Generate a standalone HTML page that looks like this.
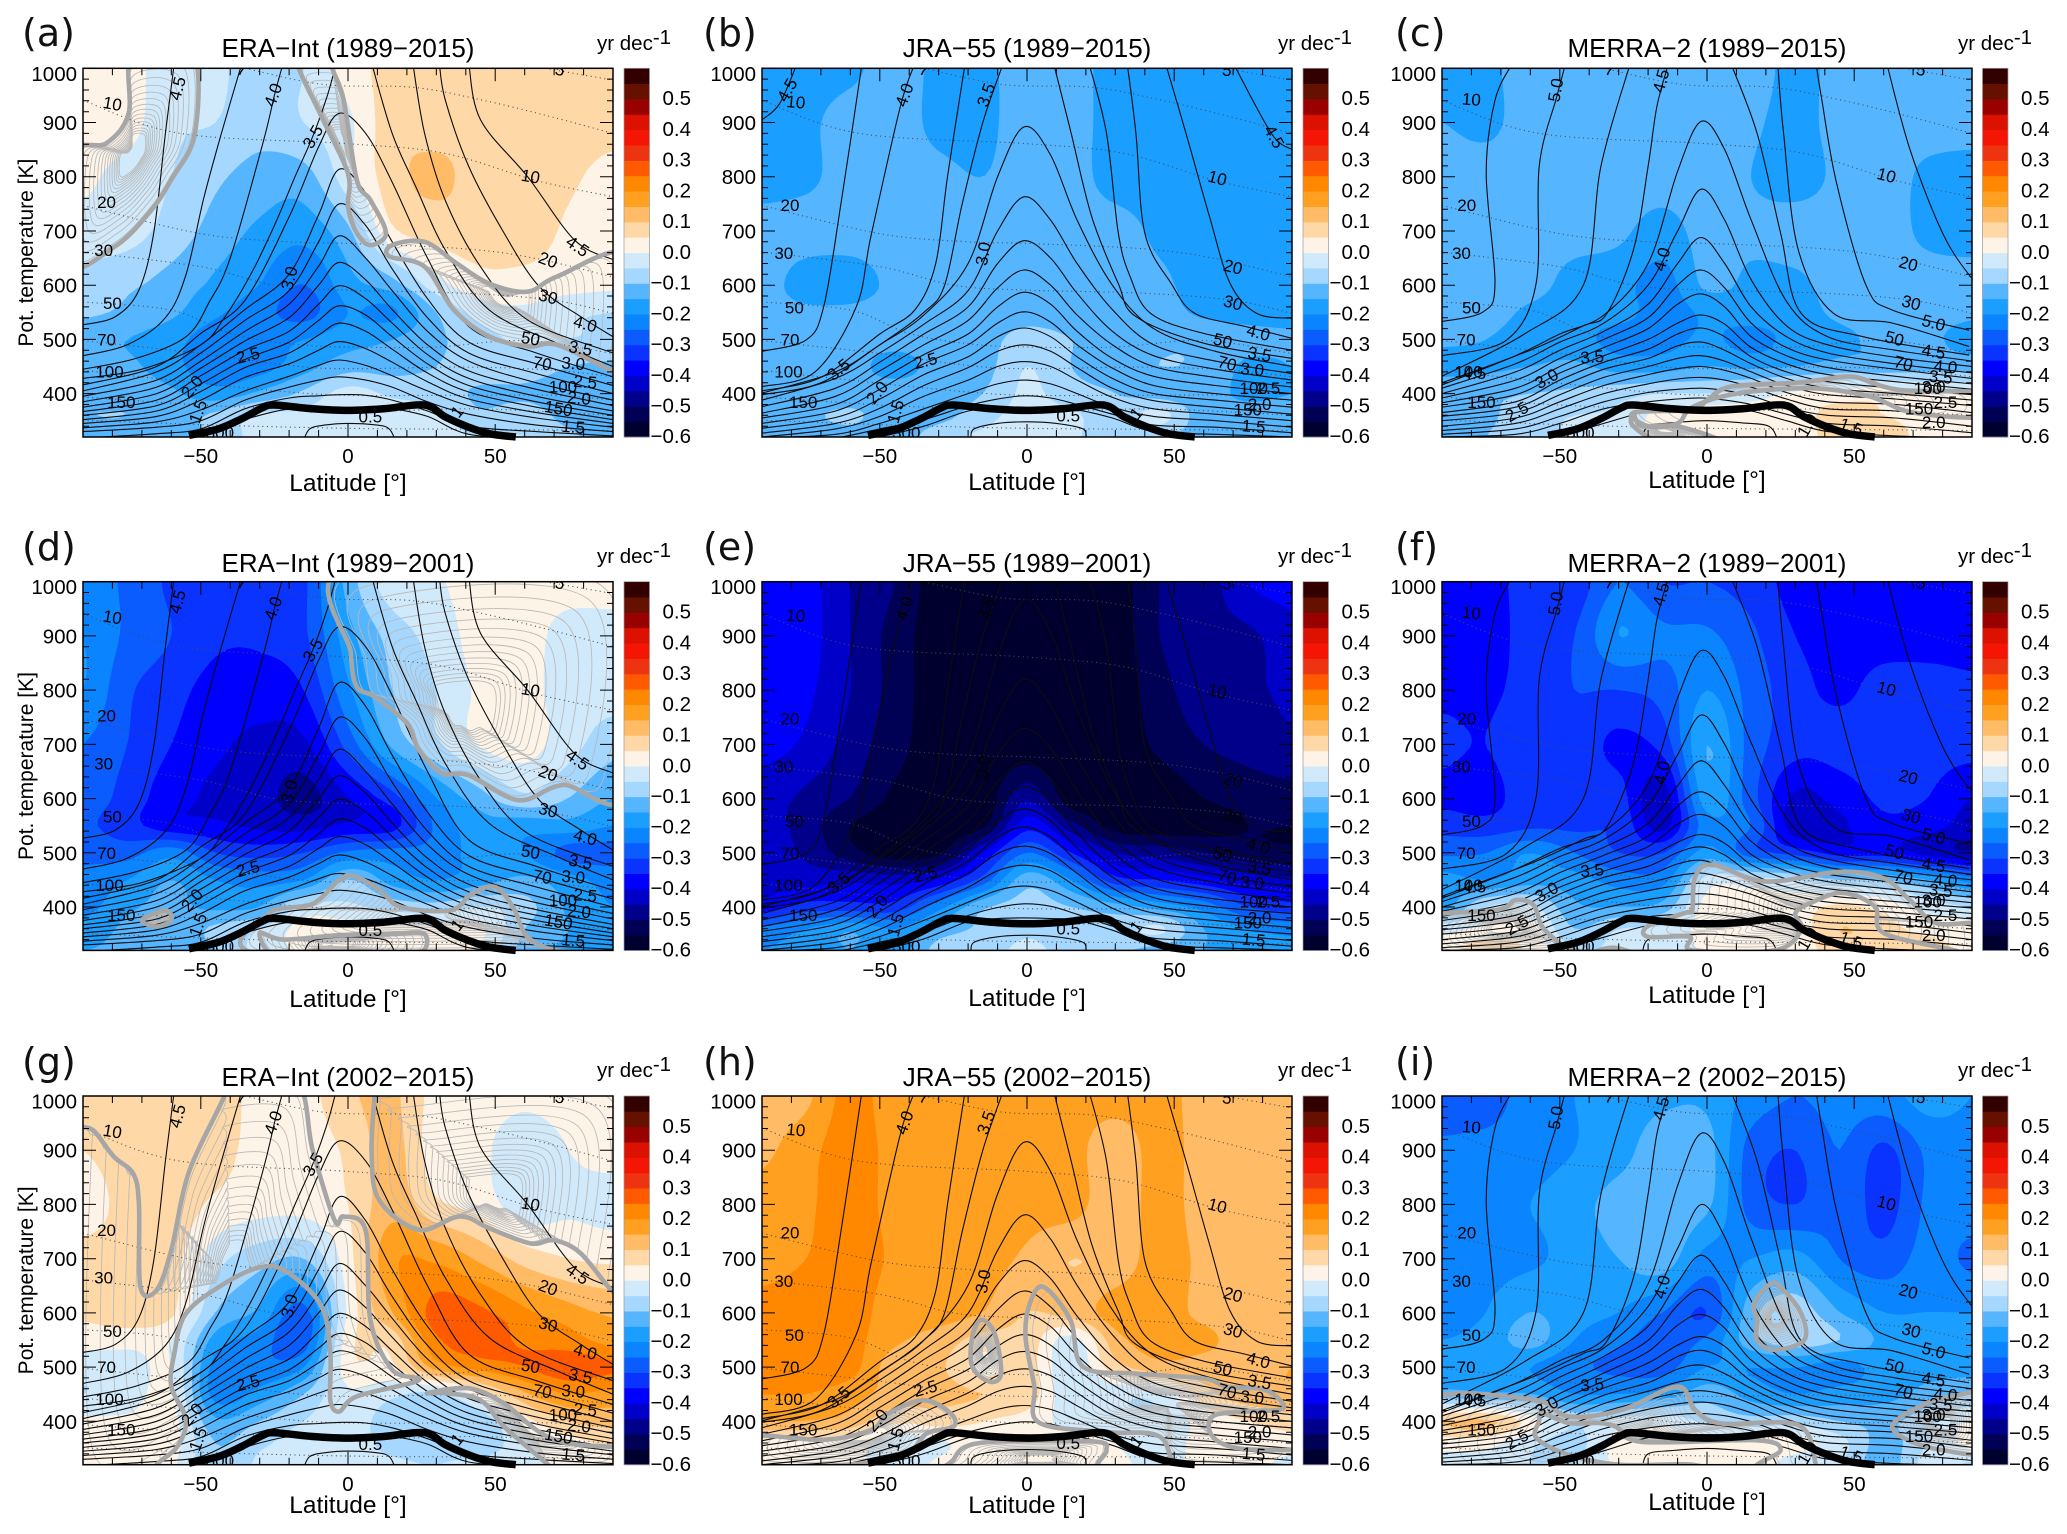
<!DOCTYPE html>
<html lang="en">
<head>
<meta charset="utf-8">
<title>Age of air trends</title>
<style>
html,body{margin:0;padding:0;background:#fff;}
svg{display:block;font-family:"Liberation Sans",sans-serif;}
</style>
</head>
<body>
<svg id="fig" xmlns="http://www.w3.org/2000/svg" width="2067" height="1534" viewBox="0 0 2067 1534"></svg>
<script>
/* ---------- axis nodes ---------- */
const latNodes=[-90,-75,-60,-45,-30,-15,0,15,30,45,60,75,90];
const thetaNodes=[1000,900,800,700,600,550,500,450,400,360,320];
const xTicks=[-50,0,50];
const yTicks=[1000,900,800,700,600,500,400];
const cbLabels=[0.5,0.4,0.3,0.2,0.1,0.0,-0.1,-0.2,-0.3,-0.4,-0.5,-0.6];
const letters=['(a)','(b)','(c)','(d)','(e)','(f)','(g)','(h)','(i)'];
const titles=['ERA\u2212Int (1989\u22122015)','JRA\u221255 (1989\u22122015)','MERRA\u22122 (1989\u22122015)','ERA\u2212Int (1989\u22122001)','JRA\u221255 (1989\u22122001)','MERRA\u22122 (1989\u22122001)','ERA\u2212Int (2002\u22122015)','JRA\u221255 (2002\u22122015)','MERRA\u22122 (2002\u22122015)'];

/* ---------- trend fields (yr/dec), rows = thetaNodes, cols = latNodes ---------- */
const trendA=[
[.02,.02,-.03,-.04,-.07,-.05,.02,.07,.07,.07,.07,.07,.06],
[.02,.02,-.04,-.05,-.08,-.05,-.01,.08,.08,.08,.08,.08,.07],
[.01,-.02,-.05,-.09,-.12,-.12,-.02,.08,.11,.08,.08,.06,.03],
[-.02,-.03,-.07,-.12,-.16,-.18,-.11,.04,.07,.08,.08,.04,.02],
[-.07,-.09,-.12,-.16,-.2,-.25,-.17,-.12,-.02,.03,.03,.02,.01],
[-.09,-.11,-.14,-.19,-.23,-.27,-.2,-.21,-.1,-.03,-.01,-.04,-.05],
[-.14,-.15,-.18,-.23,-.22,-.2,-.17,-.15,-.11,-.07,-.04,-.05,-.06],
[-.14,-.14,-.18,-.24,-.22,-.17,-.12,-.12,-.1,-.07,-.07,-.1,-.11],
[-.12,-.12,-.14,-.18,-.14,-.09,-.03,-.06,-.07,-.11,-.11,-.13,-.13],
[-.1,-.1,-.12,-.09,-.04,-.04,-.01,-.02,-.04,-.09,-.07,-.12,-.13],
[-.12,-.12,-.12,-.09,-.03,-.03,-.03,-.03,-.03,-.05,-.05,-.09,-.12]];
const trendB=[
[-.17,-.17,-.16,-.13,-.16,-.16,-.13,-.13,-.17,-.17,-.17,-.17,-.17],
[-.17,-.16,-.13,-.13,-.16,-.16,-.13,-.13,-.17,-.17,-.17,-.17,-.17],
[-.17,-.16,-.13,-.13,-.14,-.15,-.13,-.13,-.17,-.17,-.17,-.17,-.17],
[-.13,-.13,-.13,-.13,-.13,-.13,-.13,-.13,-.13,-.16,-.17,-.17,-.17],
[-.13,-.17,-.17,-.14,-.13,-.13,-.13,-.13,-.13,-.14,-.17,-.17,-.17],
[-.13,-.14,-.14,-.13,-.13,-.13,-.12,-.13,-.13,-.13,-.16,-.17,-.17],
[-.13,-.13,-.13,-.13,-.13,-.12,-.08,-.1,-.13,-.11,-.11,-.13,-.14],
[-.13,-.13,-.13,-.17,-.13,-.12,-.05,-.1,-.12,-.1,-.11,-.16,-.15],
[-.13,-.13,-.13,-.12,-.13,-.1,-.04,-.08,-.1,-.12,-.13,-.16,-.15],
[-.12,-.11,-.09,-.13,-.12,-.07,-.03,-.04,-.08,-.03,-.13,-.13,-.13],
[-.14,-.13,-.12,-.13,-.07,-.04,-.03,-.04,-.09,-.09,-.13,-.13,-.14]];
const trendC=[
[-.17,-.16,-.13,-.13,-.13,-.13,-.13,-.12,-.17,-.13,-.13,-.13,-.13],
[-.15,-.16,-.13,-.13,-.13,-.13,-.13,-.14,-.17,-.13,-.13,-.13,-.13],
[-.13,-.13,-.13,-.13,-.13,-.13,-.13,-.15,-.17,-.14,-.13,-.16,-.17],
[-.13,-.13,-.13,-.13,-.14,-.17,-.13,-.14,-.13,-.13,-.13,-.16,-.17],
[-.13,-.13,-.13,-.17,-.18,-.22,-.14,-.16,-.16,-.13,-.13,-.13,-.13],
[-.13,-.13,-.16,-.18,-.18,-.22,-.19,-.17,-.17,-.14,-.13,-.13,-.14],
[-.14,-.15,-.17,-.18,-.22,-.22,-.19,-.22,-.18,-.16,-.14,-.14,-.17],
[-.17,-.16,-.15,-.14,-.17,-.17,-.15,-.16,-.15,-.13,-.13,-.12,-.12],
[-.11,-.11,-.1,-.09,-.07,-.05,-.05,-.03,.01,.02,.03,0,0],
[-.12,-.11,-.07,-.05,-.04,.02,.03,.03,.03,.07,.05,.03,.03],
[-.13,-.1,-.08,-.04,-.04,.02,.03,.03,.03,.07,.08,.03,.03]];
const trendD=[
[-.22,-.26,-.31,-.34,-.33,-.31,-.13,-.02,-.005,.02,.02,.02,.02],
[-.2,-.26,-.3,-.34,-.34,-.31,-.17,-.08,-.03,.02,.02,-.02,-.02],
[-.2,-.29,-.33,-.37,-.38,-.35,-.21,-.1,-.05,.01,.02,-.03,-.03],
[-.25,-.3,-.35,-.39,-.41,-.41,-.28,-.14,-.06,.005,.02,-.03,-.08],
[-.27,-.32,-.38,-.41,-.43,-.47,-.4,-.32,-.2,-.12,-.06,-.1,-.15],
[-.29,-.33,-.38,-.39,-.41,-.42,-.39,-.37,-.24,-.17,-.18,-.17,-.2],
[-.26,-.27,-.22,-.3,-.32,-.3,-.24,-.23,-.23,-.18,-.2,-.27,-.27],
[-.24,-.2,-.15,-.2,-.22,-.2,-.1,-.17,-.2,-.17,-.14,-.18,-.22],
[-.22,-.16,-.14,-.16,-.15,-.04,-.04,-.07,-.08,-.05,-.08,-.16,-.2],
[-.18,-.14,-.13,-.09,-.05,.02,.02,.02,.01,.01,-.1,-.15,-.18],
[-.15,-.14,-.13,-.1,-.03,.01,.02,.02,.02,-.01,-.12,-.16,-.17]];
const trendE=[
[-.38,-.38,-.45,-.5,-.58,-.59,-.59,-.59,-.58,-.5,-.48,-.4,-.38],
[-.38,-.38,-.45,-.52,-.58,-.59,-.59,-.59,-.58,-.5,-.47,-.46,-.42],
[-.37,-.39,-.45,-.52,-.58,-.59,-.59,-.59,-.58,-.52,-.47,-.46,-.44],
[-.38,-.41,-.47,-.53,-.58,-.59,-.59,-.59,-.58,-.54,-.5,-.48,-.46],
[-.43,-.46,-.5,-.56,-.58,-.59,-.46,-.58,-.58,-.58,-.55,-.53,-.52],
[-.43,-.47,-.55,-.58,-.58,-.56,-.37,-.48,-.57,-.58,-.57,-.55,-.55],
[-.42,-.46,-.53,-.58,-.56,-.4,-.25,-.35,-.45,-.47,-.5,-.53,-.54],
[-.42,-.42,-.41,-.42,-.39,-.28,-.12,-.2,-.33,-.35,-.38,-.42,-.44],
[-.38,-.33,-.33,-.33,-.22,-.11,-.08,-.1,-.13,-.17,-.22,-.3,-.33],
[-.24,-.2,-.16,-.2,-.13,-.09,-.06,-.08,-.08,-.04,-.15,-.2,-.22],
[-.2,-.18,-.15,-.18,-.08,-.07,-.04,-.07,-.09,-.12,-.15,-.17,-.18]];
const trendF=[
[-.37,-.37,-.33,-.33,-.25,-.3,-.3,-.32,-.37,-.37,-.37,-.37,-.37],
[-.37,-.37,-.33,-.3,-.2,-.24,-.24,-.29,-.35,-.37,-.37,-.37,-.37],
[-.36,-.36,-.33,-.3,-.3,-.28,-.2,-.27,-.33,-.36,-.33,-.33,-.34],
[-.34,-.35,-.31,-.32,-.36,-.33,-.15,-.27,-.33,-.33,-.32,-.33,-.33],
[-.36,-.37,-.32,-.32,-.33,-.43,-.17,-.28,-.41,-.38,-.34,-.35,-.4],
[-.32,-.33,-.31,-.31,-.31,-.42,-.22,-.25,-.43,-.41,-.36,-.38,-.42],
[-.26,-.25,-.2,-.25,-.3,-.3,-.18,-.28,-.32,-.37,-.37,-.42,-.45],
[-.18,-.2,-.17,-.18,-.22,-.22,-.03,-.03,-.05,-.1,-.1,-.15,-.22],
[-.17,-.05,-.04,-.14,-.15,-.13,.02,.02,.02,.06,.03,-.02,-.05],
[-.02,.01,.02,-.1,-.05,-.04,.02,.02,.02,.1,.07,.03,.02],
[.03,.08,.04,-.05,-.04,-.04,.01,.02,.02,.08,.08,.08,.03]];
const trendG=[
[.08,.08,.07,.08,.03,.03,.09,.11,.03,.02,.01,.02,.02],
[.05,.08,.08,.07,.03,.02,.06,.12,.02,.01,-.03,0,.02],
[.02,.07,.08,.04,.02,.02,.05,.13,.06,.03,-.03,-.01,-.02],
[.07,.07,.07,-.03,-.08,-.1,.03,.19,.19,.14,.08,.05,.04],
[.06,.08,.06,-.1,-.16,-.27,.01,.15,.27,.26,.21,.17,.14],
[.02,.02,0,-.17,-.22,-.28,.03,.07,.24,.27,.24,.22,.18],
[-.03,-.03,0,-.22,-.24,-.2,.03,.04,.17,.22,.25,.28,.26],
[-.05,-.03,.01,-.22,-.18,-.1,-.01,-.04,-.06,.02,.14,.2,.18],
[.01,.01,.02,-.14,-.1,-.05,-.02,-.08,-.08,-.08,.03,.1,.12],
[.02,.02,.02,-.1,-.06,-.03,-.02,-.07,-.07,-.09,-.01,.03,.06],
[.01,.01,.01,-.1,-.04,-.04,-.02,-.04,-.05,-.03,-.01,.01,.02]];
const trendH=[
[.13,.14,.22,.17,.17,.17,.19,.17,.17,.17,.13,.13,.13],
[.14,.18,.23,.18,.17,.17,.19,.17,.12,.17,.13,.13,.13],
[.17,.19,.23,.18,.17,.17,.17,.17,.12,.17,.13,.13,.13],
[.17,.2,.23,.19,.17,.17,.14,.1,.12,.17,.14,.13,.13],
[.23,.24,.23,.17,.17,.15,.1,.12,.17,.17,.14,.13,.13],
[.24,.24,.22,.16,.13,.08,.08,-.02,.13,.17,.16,.13,.13],
[.23,.24,.22,.12,.11,.03,.07,-.04,.08,.13,.13,.14,.15],
[.2,.2,.17,.13,.12,.1,.08,-.04,-.04,-.03,.08,.13,.14],
[.15,.15,.13,.06,.07,.05,.03,-.02,-.03,-.04,.02,.05,.08],
[.03,.03,.03,-.03,-.01,.03,.03,.02,0,-.03,.02,.02,.02],
[.02,.02,.02,-.03,.01,.03,.03,.03,.01,-.01,.01,.01,-.01]];
const trendI=[
[-.28,-.28,-.22,-.2,-.18,-.16,-.16,-.22,-.25,-.23,-.22,-.18,-.2],
[-.24,-.23,-.22,-.2,-.17,-.12,-.13,-.27,-.3,-.25,-.31,-.24,-.22],
[-.22,-.22,-.2,-.17,-.13,-.12,-.14,-.27,-.3,-.26,-.32,-.24,-.22],
[-.22,-.22,-.21,-.18,-.15,-.12,-.22,-.2,-.18,-.25,-.28,-.23,-.26],
[-.23,-.2,-.15,-.18,-.2,-.25,-.3,-.12,-.07,-.15,-.2,-.2,-.2],
[-.2,-.18,-.13,-.2,-.24,-.27,-.24,-.12,-.07,-.1,-.16,-.17,-.19],
[-.18,-.18,-.2,-.24,-.26,-.27,-.2,-.2,-.2,-.22,-.18,-.17,-.17],
[-.13,-.14,-.15,-.2,-.2,-.18,-.12,-.17,-.2,-.18,-.17,-.13,-.1],
[.1,.11,.03,-.06,-.03,-.02,-.06,-.08,-.07,-.1,-.11,-.07,.01],
[.02,.02,-.04,-.07,.02,.03,.02,.03,.02,-.03,-.12,-.05,.02],
[-.02,-.03,-.05,-.05,.01,.03,.03,.03,-.03,-.05,-.13,-.03,-.06]];

/* ---------- colour scale: one colour per 0.05 band, from -0.6 upward ---------- */
const bandColors=['#00002f','#000055','#00008a','#0000c8','#0000ff','#0a33ff','#0a5cff','#0a84ff','#1a9eff','#55b5ff','#a6d8ff','#d0e9fb','#fdf3e7','#ffd8a8','#ffbb66','#ffa020','#ff8800','#ff5a00','#ee3311','#f51505','#dd1100','#990000','#661100','#330000'];

/* ---------- mean age contours (lat, theta) per reanalysis ---------- */
const eraSideCurves=[
[[-90,527],[-79,542],[-71,591],[-66,696],[-62,880],[-59,1010]],
[[-90,470],[-75,490],[-62,540],[-55,620],[-49,760],[-43,880],[-36,1010]],
[[-90,445],[-72,465],[-55,505],[-47,570],[-40,650],[-29,860],[-25,950],[-22,1010]],
[[-90,428],[-70,445],[-50,490],[-42,540],[-33,620],[-25,710],[-18,800],[-12,874],[-7,950],[-4,1010]],
[[41,1010],[45,905],[61,800],[77,683],[90,647]],
[[31,1010],[33,942],[41,819],[53,696],[65,597],[79,542],[90,505]],
[[22,1010],[26,880],[33,757],[45,634],[61,536],[90,475]],
[[8,1010],[15,880],[23,782],[33,665],[48,554],[71,493],[90,450]],
[[-15,315],[-13,335],[-8,342],[0,345],[10,342],[14,335],[16,315]]];
const eraPeakLats=[-90,-65,-50,-35,-20,-10,-3,6,15,27,41,64,90];
const eraPeakThetas=[
[416,450,511,572,726,855,917,880,790,650,524,475,431],
[405,440,490,555,620,730,814,770,680,575,495,455,415],
[395,425,475,535,590,680,750,710,630,540,475,437,400],
[385,412,460,515,565,635,691,650,590,515,460,420,388],
[375,400,447,497,540,600,642,610,555,490,442,408,378],
[367,388,433,480,515,565,599,575,530,472,428,395,368],
[360,378,418,463,495,535,562,545,505,455,415,385,360],
[352,368,404,448,475,508,530,515,482,438,403,375,352],
[345,358,388,430,455,480,496,483,458,422,390,365,345],
[337,348,370,405,432,452,462,452,433,405,378,355,338],
[330,338,350,388,412,425,431,425,412,385,362,342,330],
[318,326,335,372,392,396,398,397,388,368,340,330,322],
[300,305,320,352,372,373,373,373,372,358,325,318,310]];

const jraSideCurves=[
[[-90,905],[-84,935],[-78,1010]],
[[-90,478],[-75,499],[-69,561],[-63,757],[-56,1010]],
[[-90,413],[-72,440],[-58,560],[-53,690],[-43,930],[-38,1010]],
[[-90,405],[-70,430],[-50,510],[-38,555],[-31,640],[-27,800],[-21,1010]],
[[-90,398],[-70,420],[-50,490],[-35,550],[-28,600],[-22,750],[-15,900],[-8,1010]],
[[70,1010],[83,880],[90,850]],
[[47,1010],[54,880],[62,726],[69,603],[78,548],[90,539]],
[[34,1010],[37,880],[40,696],[49,603],[57,548],[74,524],[90,502]],
[[21,1010],[27,880],[31,696],[35,616],[42,548],[60,511],[90,480]],
[[9,1010],[15,880],[22,726],[31,603],[37,542],[60,493],[90,465]],
[[-19,315],[-18,335],[-10,345],[0,348],[10,345],[19,335],[20,315]]];
const jraPeakLats=[-90,-65,-50,-35,-20,-10,-1,8,17,29,43,64,90];
const jraPeakThetas=[
[401,440,490,545,640,800,892,840,720,600,520,478,450],
[388,428,475,528,590,700,763,720,640,555,490,460,437],
[376,410,458,510,560,640,682,650,585,515,470,445,425],
[364,395,442,490,535,595,628,600,545,490,450,430,412],
[355,380,425,472,510,560,587,565,515,465,432,415,400],
[345,368,408,455,490,530,551,532,490,447,415,400,388],
[336,356,390,435,468,505,521,505,468,428,400,388,375],
[327,345,373,415,448,478,490,478,448,410,387,375,362],
[320,335,358,395,425,450,459,450,425,393,372,362,350],
[318,325,345,372,400,418,425,418,400,375,358,350,338],
[300,318,335,352,378,390,396,392,380,362,342,338,328],
[300,300,320,340,368,372,373,372,370,355,330,325,320]];

const merraSideCurves=[
[[-90,533],[-76,551],[-72,604],[-75,806],[-72,941],[-66,1010]],
[[-90,470],[-68,499],[-58,604],[-57,819],[-51,948],[-48,1010]],
[[-90,432],[-62,510],[-42,600],[-36,820],[-26,1010]],
[[-90,420],[-60,480],[-42,525],[-34,548],[-25,665],[-20,819],[-17,930],[-13,1010]],
[[61,1010],[69,849],[80,696],[89,619],[92,610]],
[[37,1010],[39,942],[44,788],[54,600],[63,554],[89,517]],
[[24,1010],[26,880],[31,665],[43,548],[63,530],[89,487]],
[[8,1010],[17,880],[25,696],[32,548],[53,505],[89,471]],
[[-22,315],[-20,340],[-12,346],[0,350],[12,346],[21,340],[24,315]]];
const merraPeakLats=[-90,-65,-50,-35,-20,-10,-2,6,15,27,41,64,90];
const merraPeakThetas=[
[416,470,510,545,640,810,902,850,720,570,505,480,460],
[410,455,495,530,600,700,777,720,610,525,490,467,450],
[400,440,480,515,565,640,688,640,560,505,475,455,438],
[392,425,465,500,540,600,628,595,530,485,462,445,428],
[383,410,450,485,520,565,584,560,505,470,448,432,418],
[375,398,438,470,500,530,545,528,485,455,435,422,408],
[365,385,425,458,482,510,521,505,468,440,422,410,398],
[358,375,412,445,465,488,495,480,455,428,410,400,388],
[350,365,398,430,450,465,470,460,440,415,398,390,378],
[340,355,385,415,435,446,450,443,428,402,385,380,365],
[332,345,372,400,418,427,430,425,412,390,372,368,352],
[325,335,358,385,402,408,410,406,396,375,360,355,340],
[320,325,345,372,385,390,392,388,380,362,345,340,328],
[300,312,322,345,368,372,373,372,368,350,330,322,318]];

/* period-specific stretch of the tropical age contours, and their weight per contour node */
const panelPeakStretch=[1,1,1,1,1.13,.95,1,1.04,1.05];
const peakNodeWeights=[0,0,.2,.5,.85,1,1,1,.85,.5,.2,0,0];

/* ---------- pressure surfaces (dotted), lat/theta ---------- */
const pressureCurves=[
[[-35,1000],[-8,970],[22,965],[45,942],[68,912],[90,880]],
[[67,1000],[90,978]],
[[-90,941],[-57,880],[0,861],[33,843],[64,793],[90,763]],
[[-90,747],[-50,695],[-20,680],[0,677],[40,667],[64,649],[90,615]],
[[-90,661],[-50,634],[-25,600],[0,591],[40,585],[70,572],[90,548]],
[[-90,569],[-60,554],[-40,511],[-20,492],[0,486],[30,486],[60,498],[90,474]],
[[-90,498],[-50,474],[-20,452],[0,446],[40,449],[70,443],[90,431]],
[[-90,443],[-50,419],[-20,403],[0,397],[40,397],[70,397],[90,388]],
[[-90,394],[-50,379],[-20,372],[0,366],[40,372],[70,366],[90,360]],
[[-90,351],[-45,342],[0,336],[45,334],[90,332]]];

/* ---------- tropopause ---------- */
const tropopauseLats=[-54,-44,-36,-29,-25,-12,0,12,26,33,41,48,57];
const tropopauseThetas=[323,335,354,374,379,372,369,372,379,357,338,326,320];

/* ---------- significance outlines (lat, theta) per panel ---------- */
const sigA=[
[[-95,640],[-79,672],[-67,737],[-60,795],[-52,880],[-53,1030],[-73,1030],[-74.5,917],[-82,862],[-95,838]],
[[-16.7,1030],[-16.7,1000],[-9,911],[0,806],[0,745],[3,696],[7.6,674],[12.9,696],[7.6,757],[3,794],[-1.5,942],[-5.3,1000],[-5.3,1030]],
[[15,674],[26,680],[37,640],[48,603],[61,588],[71,616],[95,653],[95,440],[90,441],[71,490],[61,487],[48,505],[36,554],[26,634],[14,653]]];
const sigB=[];
const sigC=[
[[-25,365],[-5,370],[0,388],[8,413],[30,420],[38,425],[50,431],[65,407],[95,400],[95,358],[70,365],[55,395],[35,410],[10,400],[-5,375],[-10,345],[-20,340]],
[[-25,362],[-22,340],[-10,340],[5,310],[-15,310],[-25,340]]];
const sigD=[
[[0,1030],[1,868],[3,806],[9,788],[20,739],[24,690],[32,647],[41,643],[58,597],[73,625],[95,616],[95,1030]],
[[-27,388],[-12,406],[-3,450],[2,457],[11,431],[18,400],[35,394],[42,425],[50,437],[56,400],[61,345],[71,320],[95,310],[-27,310]],
[[-30,352],[-22,340],[-3,348],[14,350],[26,350],[22,310],[-10,310],[-10,320],[-25,310]],
[[-70,376],[-62,394],[-60,376],[-65,364]]];
const sigE=[];
const sigF=[
[[-5,395],[-4,456],[2,478],[20,447],[45,465],[60,453],[69,412],[78,370],[95,367],[95,300],[84,320],[60,352],[57,401],[46,426],[35,407],[30,388],[32,358],[23,320],[-5,320],[-6,345],[-20,345],[-20,365],[-7,390]],
[[-95,380],[-71,395],[-65,413],[-59,404],[-56,364],[-50,333],[-45,310],[-95,310]],
[[-40,312],[-32,325],[-25,312]]];
const sigG=[
[[-95,948],[-90,943],[-86,934],[-79.5,888],[-73,857],[-71,802],[-70.5,648],[-65,642],[-60,716],[-54,860],[-42,1000],[-42,1030],[-18,1030],[-12,900],[-4.5,770],[-1.5,778],[6,752],[7.6,587],[15,495],[24,476],[3,446],[-3,418],[-6,439],[-6,525],[-9,612],[-20,673],[-29,685],[-42,654],[-55,599],[-59,525],[-60,464],[-55,403],[-58,353],[-65,320],[-65,300],[-95,300]],
[[9,1030],[9,1000],[8,894],[10.6,808],[24,753],[38,778],[48,756],[62,728],[70,734],[79,710],[90,639],[95,639],[95,1030]],
[[27,452],[41,461],[53,433],[64,384],[74,360],[90,353],[95,353],[95,310],[70,310],[68,320],[53,390],[45,439],[33,452]]];
const sigH=[
[[-15.6,587],[-11,562],[-8.8,489],[-12.6,473],[-18.6,501],[-18.6,556]],
[[5.6,648],[14.7,587],[19,501],[37,488],[60,479],[68,464],[81,458],[87,424],[74,418],[63,409],[63,372],[72,350],[90,347],[95,347],[95,300],[55,300],[45,372],[27,380],[4,398],[2.5,464],[-0.5,556],[1,618]],
[[-95,372],[-69,366],[-53,384],[-47,415],[-35,439],[-26,415],[-25,390],[-34,378],[-41,341],[-61,320],[-95,320]],
[[-25,329],[-16,360],[22,363],[27,347],[24,320],[27,300],[-25,300]]];
const sigI=[
[[17,587],[16,618],[22,655],[26,642],[32,599],[33,550],[23,532],[17,550]],
[[-95,440],[-59,440],[-47,409],[-29,421],[-10,464],[-4,421],[5,396],[31,393],[37,320],[37,300],[17,300],[17,320],[25,347],[17,365],[-22,362],[-31,390],[-37,397],[-47,397],[-56,415],[-57,400],[-58,370],[-48,340],[-30,320],[-5,320],[-5,300],[-95,300]],
[[63,393],[72,427],[83,446],[95,446],[95,347],[80,347],[68,366]]];

/* ---------- contour labels: text, lat, theta, angle ---------- */
const eraLabels=[['7',-36,998,15],['5',72,998,10],['4.5',-58,963,-75],['4.0',-25.5,951,-70],['3.5',-12,874,-60],['3.0',-20,613,-75],['2.5',-34,471,-15],['2.0',-53,413,-50],['1.5',-51,367,-70],['10',-80,935,10],['20',-82,753,0],['30',-83,665,0],['50',-80,567,0],['70',-82,500,0],['100',-81,441,0],['150',-77,385,0],['10',62,801,10],['20',68,647,20],['30',68,579,15],['50',62,502,10],['70',66,456,10],['100',73,413,0],['150',71.5,373,10],['4.5',78,672,35],['4.0',80.6,529,15],['3.5',79,484,10],['3.0',76.5,456,5],['2.5',80.6,422,5],['2.0',78.5,392,5],['1.5',76.5,339,5],['0.5',7.6,358,0],['1',37,367,-50],['300',-43.5,328,0]];
const jraLabels=[['7',-35,998,15],['5',68,997,10],['4.5',-81.5,960,-60],['4.0',-41.7,951,-70],['3.5',-14,951,-70],['3.0',-15,658,-80],['2.5',-34.5,461,-15],['2.0',-51,402,-50],['1.5',-44.7,367,-75],['3.5',-64,445,-40],['10',-78.5,938,5],['20',-80.5,748,0],['30',-82.6,659,0],['50',-79,559,0],['70',-80.5,500,0],['100',-81,441,0],['150',-76,385,0],['10',64.7,798,15],['20',70,634,15],['30',70,568,15],['50',66.5,498,15],['70',68,456,15],['100',77,410,0],['150',75,371,0],['4.5',84,874,60],['4.0',78.6,513,15],['3.5',79,473,10],['3.0',76.5,445,5],['2.5',82,410,0],['2.0',79,381,0],['1.5',77,340,5],['0.5',14,360,0],['1',37,364,-50],['300',-41,328,0]];
const merraLabels=[['7',-33,998,15],['5',72.7,998,10],['5.0',-51.5,960,-80],['4.5',-15.7,977,-75],['4.0',-15.4,648,-75],['3.5',-39,468,-5],['3.0',-54.5,428,-30],['2.5',-64.6,367,-30],['100',-81,441,0],['4.5',-79,438,0],['10',-80,943,5],['20',-81.6,748,0],['30',-83.4,659,0],['50',-80,559,0],['70',-81.8,500,0],['150',-76.6,385,0],['10',61,803,15],['20',68.4,640,15],['30',69.4,568,15],['5.0',77,531,15],['50',63.7,502,15],['4.5',77,478,10],['70',66.7,456,15],['4.0',81,450,5],['3.5',79.4,431,5],['100',75,410,0],['3.0',77,413,0],['2.5',81,385,0],['150',72,373,0],['2.0',77,348,0],['1.5',49,339,20],['1.0',34,342,-60],['300',-43,328,0]];

const panelTrends=[trendA,trendB,trendC,trendD,trendE,trendF,trendG,trendH,trendI];
const panelSig=[sigA,sigB,sigC,sigD,sigE,sigF,sigG,sigH,sigI];
const familySide=[eraSideCurves,jraSideCurves,merraSideCurves];
const familyPeakLats=[eraPeakLats,jraPeakLats,merraPeakLats];
const familyPeakThetas=[eraPeakThetas,jraPeakThetas,merraPeakThetas];
const familyLabels=[eraLabels,jraLabels,merraLabels];

/* ---------- layout ---------- */
const NS='http://www.w3.org/2000/svg';
const svg=document.getElementById('fig');
const colLeft=[83,762,1442];
const rowTop=[68.3,581.7,1096];
const plotW=530,plotH=368.7,thetaMin=320,thetaMax=1000;
const cbX=[624,1303,1982.5],cbW=25.5;
const letterX=[22,703,1395],letterBase=[46,560,1075];
const titleBase=[57,572,1086];
const unitX=[597,1278,1958],unitBase=[50,563,1077];
const xTickBase=[463,977,1491];
const xTitleBase=[[491,490,488],[1007,1006,1003],[1513,1513,1510]];

function make(tag,parent,attrs,text){
  const e=document.createElementNS(NS,tag);
  for(const k in attrs)e.setAttribute(k,attrs[k]);
  if(text!==undefined)e.textContent=text;
  parent.appendChild(e);
  return e;
}
function catmull(a,b,c,d,t){
  return 0.5*((2*b)+(-a+c)*t+(2*a-5*b+4*c-d)*t*t+(-a+3*b-3*c+d)*t*t*t);
}
function sampleTrend(grid,lat,th){
  let fx=(lat-latNodes[0])/(latNodes[1]-latNodes[0]);
  fx=Math.max(0,Math.min(latNodes.length-1.0001,fx));
  let r=0;
  while(r<thetaNodes.length-2&&th<thetaNodes[r+1])r++;
  const fy=Math.max(0,Math.min(1,(thetaNodes[r]-th)/(thetaNodes[r]-thetaNodes[r+1])));
  const ix=Math.floor(fx),tx=fx-ix;
  const rowVal=function(j){
    const row=grid[Math.max(0,Math.min(thetaNodes.length-1,j))];
    const g=function(i){return row[Math.max(0,Math.min(latNodes.length-1,i))];};
    return catmull(g(ix-1),g(ix),g(ix+1),g(ix+2),tx);
  };
  return catmull(rowVal(r-1),rowVal(r),rowVal(r+1),rowVal(r+2),fy);
}
function smoothPath(pts,closed){
  const n=pts.length;
  if(n<2)return '';
  const at=function(i){
    if(closed)return pts[(i+n)%n];
    return pts[Math.max(0,Math.min(n-1,i))];
  };
  let d='M'+pts[0][0].toFixed(1)+' '+pts[0][1].toFixed(1);
  const segs=closed?n:n-1;
  for(let i=0;i<segs;i++){
    const p0=at(i-1),p1=at(i),p2=at(i+1),p3=at(i+2);
    const c1x=p1[0]+(p2[0]-p0[0])/6,c1y=p1[1]+(p2[1]-p0[1])/6;
    const c2x=p2[0]-(p3[0]-p1[0])/6,c2y=p2[1]-(p3[1]-p1[1])/6;
    d+='C'+c1x.toFixed(1)+' '+c1y.toFixed(1)+' '+c2x.toFixed(1)+' '+c2y.toFixed(1)+' '+p2[0].toFixed(1)+' '+p2[1].toFixed(1);
  }
  return d+(closed?'Z':'');
}
function clipCell(c,level){
  const out=[];
  for(let i=0;i<4;i++){
    const a=c[i],b=c[(i+1)%4];
    const ia=a[2]>=level,ib=b[2]>=level;
    if(ia)out.push(a);
    if(ia!==ib){
      const t=(level-a[2])/(b[2]-a[2]);
      out.push([a[0]+(b[0]-a[0])*t,a[1]+(b[1]-a[1])*t,level]);
    }
  }
  return out;
}

const NX=88,NY=62;

for(let p=0;p<9;p++){
  const col=p%3,row=Math.floor(p/3);
  const left=colLeft[col],top=rowTop[row];
  const xScale=function(lat){return left+(lat+90)/180*plotW;};
  const yScale=function(th){return top+(thetaMax-th)/(thetaMax-thetaMin)*plotH;};
  const letter=letters[p].charAt(1);
  const hidesOuter=(p===4||p===7);

  const g=make('g',svg,{});
  
  

  const clipId='plot-clip-'+letter;
  const clip=make('clipPath',g,{id:clipId});
  
  
  make('rect',clip,{x:left,y:top,width:plotW,height:plotH});

  /* filled bands */
  const field=make('g',g,{'clip-path':'url(#'+clipId+')'});
  
  
  const grid=[];
  let vmin=9,vmax=-9;
  for(let j=0;j<=NY;j++){
    const line=[];
    const th=thetaMax-(thetaMax-thetaMin)*j/NY;
    for(let i=0;i<=NX;i++){
      const lat=-90+180*i/NX;
      const v=sampleTrend(panelTrends[p],lat,th);
      line.push(v);
      if(v<vmin)vmin=v;
      if(v>vmax)vmax=v;
    }
    grid.push(line);
  }
  const bandOf=function(v){return Math.max(0,Math.min(23,Math.floor((v+0.6)/0.05)));};
  const lowBand=bandOf(vmin),highBand=bandOf(vmax);
  const baseRect=make('rect',field,{x:left,y:top,width:plotW,height:plotH,fill:bandColors[lowBand]});
  
  
  const gx=function(i){return left+plotW*i/NX;};
  const gy=function(j){return top+plotH*j/NY;};
  for(let k=lowBand+1;k<=highBand;k++){
    const level=-0.6+0.05*k;
    let d='';
    for(let j=0;j<NY;j++){
      let runStart=-1;
      for(let i=0;i<=NX;i++){
        let full=false;
        if(i<NX){
          const a=grid[j][i],b=grid[j][i+1],c=grid[j+1][i+1],e=grid[j+1][i];
          full=a>=level&&b>=level&&c>=level&&e>=level;
          if(!full&&(a>=level||b>=level||c>=level||e>=level)){
            const poly=clipCell([[gx(i),gy(j),a],[gx(i+1),gy(j),b],[gx(i+1),gy(j+1),c],[gx(i),gy(j+1),e]],level);
            if(poly.length>2){
              d+='M'+poly.map(function(q){return q[0].toFixed(1)+' '+q[1].toFixed(1);}).join('L')+'Z';
            }
          }
        }
        if(full&&runStart<0)runStart=i;
        if(!full&&runStart>=0){
          d+='M'+gx(runStart).toFixed(1)+' '+gy(j).toFixed(1)+'L'+gx(i).toFixed(1)+' '+gy(j).toFixed(1)+'L'+gx(i).toFixed(1)+' '+gy(j+1).toFixed(1)+'L'+gx(runStart).toFixed(1)+' '+gy(j+1).toFixed(1)+'Z';
          runStart=-1;
        }
      }
    }
    const band=make('path',field,{d:d,fill:bandColors[k]});
    
    
  }

  /* thin grey non-significance contours */
  const regions=panelSig[p];
  const thin=make('g',g,{'clip-path':'url(#'+clipId+')',fill:'none',stroke:'#b8b8b8','stroke-width':'0.85'});
  
  
  regions.forEach(function(reg,ri){
    const pts=reg.map(function(q){return [xScale(q[0]),yScale(q[1])];});
    let cx=0,cy=0;
    pts.forEach(function(q){cx+=q[0];cy+=q[1];});
    cx/=pts.length;cy/=pts.length;
    const rid='sig-clip-'+letter+ri;
    const rc=make('clipPath',thin,{id:rid});
    
    
    make('path',rc,{d:smoothPath(pts,true)});
    const holder=make('g',thin,{'clip-path':'url(#'+rid+')'});
    
    
    let f=0.95;
    for(let s=0;s<16;s++){
      const scaled=pts.map(function(q){return [cx+(q[0]-cx)*f,cy+(q[1]-cy)*f];});
      const ln=make('path',holder,{d:smoothPath(scaled,true)});
      
      
      f*=0.9;
    }
  });

  /* pressure surfaces */
  const pres=make('g',g,{'clip-path':'url(#'+clipId+')',fill:'none',stroke:'#4a4a4a','stroke-width':'1.1','stroke-dasharray':'1 3.6'});
  
  
  pressureCurves.forEach(function(curve){
    const ln=make('path',pres,{d:smoothPath(curve.map(function(q){return [xScale(q[0]),yScale(q[1])];}),false)});
    
    
  });

  /* age contours */
  const ages=make('g',g,{'clip-path':'url(#'+clipId+')',fill:'none',stroke:'#0c0c0c','stroke-width':'1.1'});
  
  
  familySide[col].forEach(function(curve,ci){
    if(col===1&&hidesOuter&&(ci===0||ci===5))return;
    const ln=make('path',ages,{d:smoothPath(curve.map(function(q){return [xScale(q[0]),yScale(q[1])];}),false)});
    
    
  });
  familyPeakThetas[col].forEach(function(vals){
    const line=vals.map(function(v,i){
      const stretch=1+(panelPeakStretch[p]-1)*peakNodeWeights[i];
      return [xScale(familyPeakLats[col][i]),yScale(320+(v-320)*stretch)];
    });
    const ln=make('path',ages,{d:smoothPath(line,false)});
    
    
  });

  /* thick grey significance outlines */
  const thick=make('g',g,{'clip-path':'url(#'+clipId+')',fill:'none',stroke:'#a6a6a6','stroke-width':'4.6','stroke-linejoin':'round'});
  
  
  regions.forEach(function(reg){
    const ln=make('path',thick,{d:smoothPath(reg.map(function(q){return [xScale(q[0]),yScale(q[1])];}),true)});
    
    
  });

  /* contour labels */
  const labs=make('g',g,{'clip-path':'url(#'+clipId+')'});
  
  
  familyLabels[col].forEach(function(l){
    if(col===1&&hidesOuter&&l[0]==='4.5')return;
    const x=xScale(l[1]),y=yScale(l[2]);
    const t=make('text',labs,{x:x,y:y+6,'text-anchor':'middle','font-size':'17',fill:'#000',transform:'rotate('+l[3]+' '+x.toFixed(1)+' '+y.toFixed(1)+')'},l[0]);
    
    
  });

  /* tropopause */
  const trop=make('path',g,{d:smoothPath(tropopauseLats.map(function(v,i){return [xScale(v),yScale(tropopauseThetas[i])];}),false),fill:'none',stroke:'#000','stroke-width':'7.5'});
  
  

  /* frame and ticks */
  let td='';
  for(let lat=-90;lat<=90;lat+=10){
    const x=xScale(lat).toFixed(1);
    const len=(lat%50===0)?13:7;
    td+='M'+x+' '+(top+plotH)+'v-'+len+'M'+x+' '+top+'v'+len;
  }
  for(let th=320;th<=1000;th+=20){
    const y=yScale(th).toFixed(1);
    const len=(th%100===0)?13:6;
    td+='M'+left+' '+y+'h'+len+'M'+(left+plotW)+' '+y+'h-'+len;
  }
  const tk=make('path',g,{d:td,stroke:'#000','stroke-width':'1',fill:'none'});
  
  
  const frame=make('rect',g,{x:left,y:top,width:plotW,height:plotH,fill:'none',stroke:'#000','stroke-width':'1.5'});
  
  

  /* text */
  const lt=make('text',g,{x:letterX[col],y:letterBase[row],'font-size':'38','font-family':'"DejaVu Sans",sans-serif',fill:'#111'},letters[p]);
  
  
  const ti=make('text',g,{x:left+plotW/2,y:titleBase[row],'text-anchor':'middle','font-size':'26',fill:'#000'},titles[p]);
  
  
  const un=make('text',g,{x:unitX[col],y:unitBase[row],'font-size':'20.5',fill:'#000'},'yr dec');
  
  
  make('tspan',un,{dy:'-6'},'-1');

  xTicks.forEach(function(v){
    const t=make('text',g,{x:xScale(v),y:xTickBase[row],'text-anchor':'middle','font-size':'20.5',fill:'#000'},v<0?'\u2212'+Math.abs(v):String(v));
    
    
  });
  yTicks.forEach(function(v){
    const y=yScale(v)+7.5+(v===1000?5:0);
    const t=make('text',g,{x:left-6,y:y,'text-anchor':'end','font-size':'20.5',fill:'#000'},String(v));
    
    
  });
  const xt=make('text',g,{x:left+plotW/2,y:xTitleBase[row][col],'text-anchor':'middle','font-size':'24.5',fill:'#000'},'Latitude [\u00b0]');
  
  
  if(col===0){
    const cy=top+plotH/2;
    const yt=make('text',g,{x:33,y:cy,'text-anchor':'middle','font-size':'21',fill:'#000',transform:'rotate(-90 33 '+cy+')'},'Pot. temperature [K]');
    
    
  }

  /* colour bar */
  const cb=make('g',g,{});
  
  
  const cbY=function(v){return top+(0.6-v)/1.2*plotH;};
  bandColors.forEach(function(c,i){
    const lo=-0.6+0.05*i;
    const r=make('rect',cb,{x:cbX[col],y:cbY(lo+0.05),width:cbW,height:cbY(lo)-cbY(lo+0.05)+0.4,fill:c});
    
    
  });
  const cbf=make('rect',cb,{x:cbX[col],y:top,width:cbW,height:plotH,fill:'none',stroke:'#999','stroke-width':'0.7'});
  
  
  cbLabels.forEach(function(v){
    const t=make('text',cb,{x:cbX[col]+67,y:cbY(v)+6.2,'text-anchor':'end','font-size':'20.5',fill:'#000'},(v<0?'\u2212':'')+Math.abs(v).toFixed(1));
    
    
  });
}
</script>
</body>
</html>
